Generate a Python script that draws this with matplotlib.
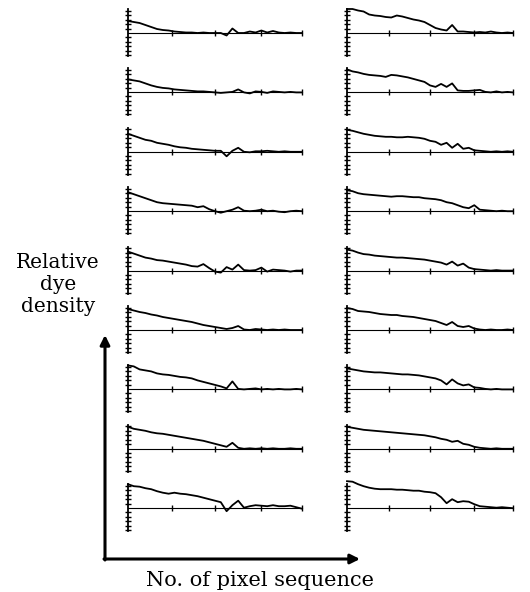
import numpy as np
import matplotlib.pyplot as plt

# pixel sequence numbers sampled along each scan line
pixel_seq = np.arange(0, 61, 2)

# relative dye density (px above baseline), top to bottom
left_profiles = [
    [12, 11, 10, 8, 6, 4, 3, 2.5, 1.5, 1, 0.5, 0.5, 0, 0.5, 0, 0, 0, -2.5, 4.5, 0, 0, 1.5, 0.5, 2.5, 0.5, 2, 0.5, 0, 0.5, 0, 0],
    [13, 12, 11, 9, 7, 5.5, 4.5, 4, 3, 2.5, 2, 1.5, 1, 1, 0.5, 0, -0.5, 0, 0.5, 3, 0, -1, 1, 0.5, -0.5, 1, 0.5, 0, 0.5, 0, 0],
    [18, 16, 14, 12, 11, 9, 8, 7, 5.5, 4.5, 4, 3, 2.5, 2, 1.5, 1, 1, -4.5, 1, 4, 0, -0.5, 0.5, 0.5, 1, 0.5, 0, 0.5, 0, 0, 0],
    [19, 17, 15, 13, 11, 9, 8, 7.5, 7, 6.5, 6, 5.5, 4, 5, 2, 0, -1.5, 0, 1.5, 4, 0.5, 0, 0.5, 1.5, 0, 0.5, -0.5, -1, 0, 0.5, 0],
    [19, 17, 15, 13, 12, 10.5, 10, 9, 8, 7, 6, 4.5, 4, 6.5, 2.5, -1, -2, 3.5, 1, 6, 0.5, 0, 0.5, 3, -1, 1, 0.5, 0, -1, 0, 0],
    [21, 19.5, 18, 17, 15.5, 14.5, 13, 12, 11, 10, 9, 8, 6.5, 5, 4, 3, 2, 1, 2, 4, 0.5, 0, 1, 0.5, 0, 0.5, 0, 0.5, 0, 0, 0],
    [24, 23, 20, 19, 18, 16, 15, 14.5, 13.5, 12.5, 12, 11, 9, 7.5, 6, 4.5, 3, 1, 8, 0.5, 0, 0.5, 1, 0, 0.5, 0, 0.5, 0, 0, 0.5, 0],
    [22, 20, 19, 18, 16.5, 15.5, 15, 14, 13, 12, 11, 10, 9, 8, 6.5, 5, 3.5, 2, 6, 1, 0, 0.5, 0, 0.5, 0, 0.5, 0, 0, 0.5, 0, 0],
    [24, 22, 21.5, 20, 19, 17, 15.5, 14.5, 15.5, 14.5, 14, 13, 12, 10.5, 9, 7.5, 6, -3, 3, 7.5, 0.5, 2, 3, 2.5, 2, 3, 2, 2, 2.5, 1, -0.5],
]
right_profiles = [
    [24, 24, 22.5, 21.5, 18.5, 17.5, 17, 16, 15.5, 17.5, 16.5, 15, 13.5, 12.5, 11, 8, 5, 3.5, 2.5, 8, 1.5, 1.5, 1, 0.5, 1, 0.5, 1.5, 0.5, 0, 0.5, 0],
    [23, 21, 20, 18.5, 17.5, 17, 16.5, 15.5, 17.5, 17, 16, 15, 13.5, 12, 10.5, 7, 5.5, 8.5, 5.5, 9, 2, 1.5, 1.5, 2, 2.5, 0.5, 0, 1, 0, 0.5, 0],
    [22, 21, 19.5, 18, 17, 16, 15.5, 15, 15, 14.5, 14.5, 15, 14.5, 14, 13, 11, 10, 7, 9, 4, 8, 3, 4, 1.5, 1, 0.5, 0, 0.5, 0, 0.5, 0],
    [21, 20, 18, 17, 16.5, 16, 15.5, 15, 14.5, 15, 15, 14.5, 14, 14, 13, 12.5, 12, 11, 9, 8, 6, 4, 3, 6, 1.5, 1, 0.5, 0, 0.5, 0, 0],
    [21, 20, 18, 16.5, 16, 15, 14.5, 14, 13.5, 13, 13, 12.5, 12, 11.5, 11, 10, 9, 8, 6, 9, 5, 7, 3, 1.5, 1, 0.5, 0, 0.5, 0, 0, 0],
    [22, 21, 19, 18.5, 18, 17, 16, 15.5, 15, 15, 14, 13.5, 13, 12, 11, 10, 9, 7, 5, 8, 4, 3, 4, 1.5, 0.5, 0, 0.5, 0, 0, 0.5, 0],
    [21, 20, 19, 18, 17.5, 17, 17, 16.5, 16, 15.5, 15, 15, 14.5, 14, 13, 12, 11, 9, 5, 10, 6, 4, 5, 2, 1.5, 0.5, 0, 0.5, 0, 0, 0],
    [22, 21, 20, 19, 18.5, 18, 17.5, 17, 16.5, 16, 15.5, 15, 14.5, 14, 13.5, 12.5, 11.5, 10, 9, 7, 8, 5, 4, 2, 1, 0.5, 0, 0.5, 0, 0, 0],
    [27, 26.5, 24, 22, 20.5, 19.5, 19, 19, 19, 18.5, 18.5, 18, 17.5, 17.5, 16.5, 16, 15, 11, 5, 9, 6, 7, 6.5, 4, 2, 1.5, 1, 0.5, 1, 0.5, 0],
]

W, H = 530, 592
fig = plt.figure(figsize=(W / 100, H / 100), dpi=100)

columns = [(128, 174, left_profiles), (347, 166, right_profiles)]
first_base, row_step = 33, 59.4

for x0, w, profiles in columns:
    for r, prof in enumerate(profiles):
        base = first_base + row_step * r
        ax = fig.add_axes([x0 / W, 1 - (base + 25) / H, w / W, 52 / H])
        ax.patch.set_visible(False)
        ax.plot(pixel_seq, prof, color="black", lw=1.3, clip_on=False,
                solid_joinstyle="round")
        ax.set_xlim(0, 60)
        ax.set_ylim(-25, 27)
        ax.spines[["top", "right"]].set_visible(False)
        ax.spines["left"].set_bounds(-23, 24)
        ax.spines["left"].set_linewidth(1.3)
        ax.spines["bottom"].set_position(("data", 0))
        ax.spines["bottom"].set_linewidth(0.8)
        ax.set_xticks([15, 30, 46, 60])
        ax.set_yticks([-22, -17.5, -13, -8.5, -4, 4.5, 9, 13.5, 18, 22.5])
        ax.tick_params(direction="inout", length=4, width=1,
                       labelbottom=False, labelleft=False)

# overlay for the big axis arrows and labels
ov = fig.add_axes([0, 0, 1, 1])
ov.set_xlim(0, W)
ov.set_ylim(H, 0)
ov.axis("off")
ov.patch.set_visible(False)
arrow = dict(arrowstyle="-|>", lw=2.2, color="black", mutation_scale=14,
             shrinkA=0, shrinkB=0)
ov.annotate("", xy=(105, 335), xytext=(105, 560), arrowprops=arrow)
ov.annotate("", xy=(360, 559), xytext=(104, 559), arrowprops=arrow)

ov.text(58, 285, "Relative\ndye\ndensity", ha="center", va="center",
        family="DejaVu Serif", fontsize=14.5, linespacing=1.2)
ov.text(260, 580, "No. of pixel sequence", ha="center", va="center",
        family="DejaVu Serif", fontsize=15)

fig.savefig("out.png", dpi=100)
